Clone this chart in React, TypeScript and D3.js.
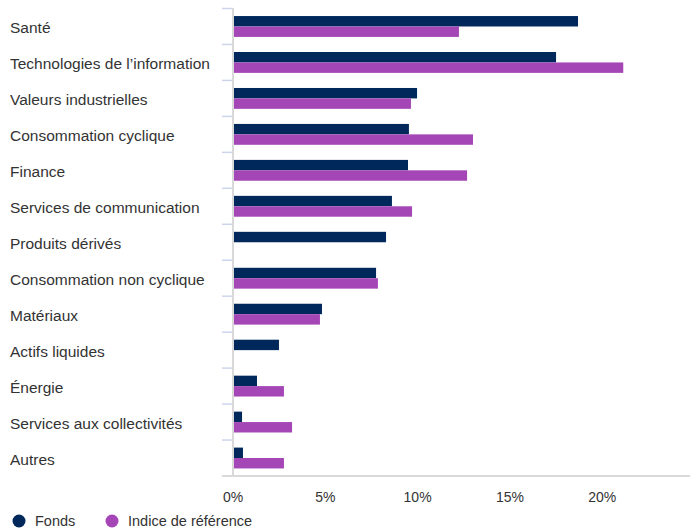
import React from "react";
import * as d3 from "d3";

const categories = [
  "Santé",
  "Technologies de l’information",
  "Valeurs industrielles",
  "Consommation cyclique",
  "Finance",
  "Services de communication",
  "Produits dérivés",
  "Consommation non cyclique",
  "Matériaux",
  "Actifs liquides",
  "Énergie",
  "Services aux collectivités",
  "Autres",
];
const fonds: (number | null)[] = [18.69, 17.5, 9.97, 9.53, 9.48, 8.61, 8.29, 7.75, 4.82, 2.49, 1.3, 0.49, 0.54];
const indice: (number | null)[] = [12.24, 21.14, 9.64, 13.0, 12.68, 9.7, null, 7.85, 4.71, null, 2.76, 3.2, 2.76];
const seriesNames = ["Fonds", "Indice de référence"];
const seriesColors = ["#00285A", "#A446B6"];
const xTicks = [0, 5, 10, 15, 20];

export default function App() {
  const W = 690;
  const H = 529;
  const x0 = 233;
  const x = d3.scaleLinear().domain([0, 25]).range([x0, x0 + 25 * 18.46]);
  const y = d3.scaleBand<string>().domain(categories).range([8.5, 476]).padding(0);
  const bw = y.bandwidth();
  const sub = d3.scaleBand<string>().domain(seriesNames).range([bw * 0.21, bw * 0.79]).padding(0);
  const seriesData = [fonds, indice];
  const font = "Arial, 'Liberation Sans', sans-serif";
  const boundaries = categories.map((c) => y(c)!).concat([476]);

  return (
    <svg
      width={W}
      height={H}
      style={{ position: "absolute", left: 0, top: 0, background: "#fff" }}
      fontFamily={font}
    >
      {/* bars */}
      {seriesData.map((vals, si) =>
        vals.map((v, i) =>
          v == null ? null : (
            <rect
              key={`${si}-${i}`}
              x={x(0)}
              y={y(categories[i])! + sub(seriesNames[si])!}
              width={x(v) - x(0)}
              height={sub.bandwidth()}
              fill={seriesColors[si]}
            />
          )
        )
      )}
      {/* category ticks */}
      {boundaries.map((b, i) => (
        <line key={i} x1={222} x2={x0} y1={b} y2={b} stroke="#ccd6eb" strokeWidth={1.5} />
      ))}
      {/* axis lines */}
      <line x1={x0} x2={x0} y1={8} y2={476} stroke="#d9d9d9" strokeWidth={2} />
      <line x1={222} x2={W} y1={476} y2={476} stroke="#d9d9d9" strokeWidth={2} />
      {/* category labels */}
      {categories.map((c) => (
        <text key={c} x={10} y={y(c)! + bw / 2 + 7} fontSize={15.5} fill="#333">
          {c}
        </text>
      ))}
      {/* x tick labels */}
      {xTicks.map((t) => (
        <text key={t} x={x(t)} y={502} fontSize={14} fill="#333" textAnchor="middle">
          {`${t}%`}
        </text>
      ))}
      {/* legend */}
      {seriesNames.map((s, i) => {
        const cx = i === 0 ? 19 : 112;
        return (
          <g key={s}>
            <circle cx={cx} cy={521} r={6.5} fill={seriesColors[i]} />
            <text x={cx + 16} y={526} fontSize={14.5} fill="#333">
              {s}
            </text>
          </g>
        );
      })}
    </svg>
  );
}
